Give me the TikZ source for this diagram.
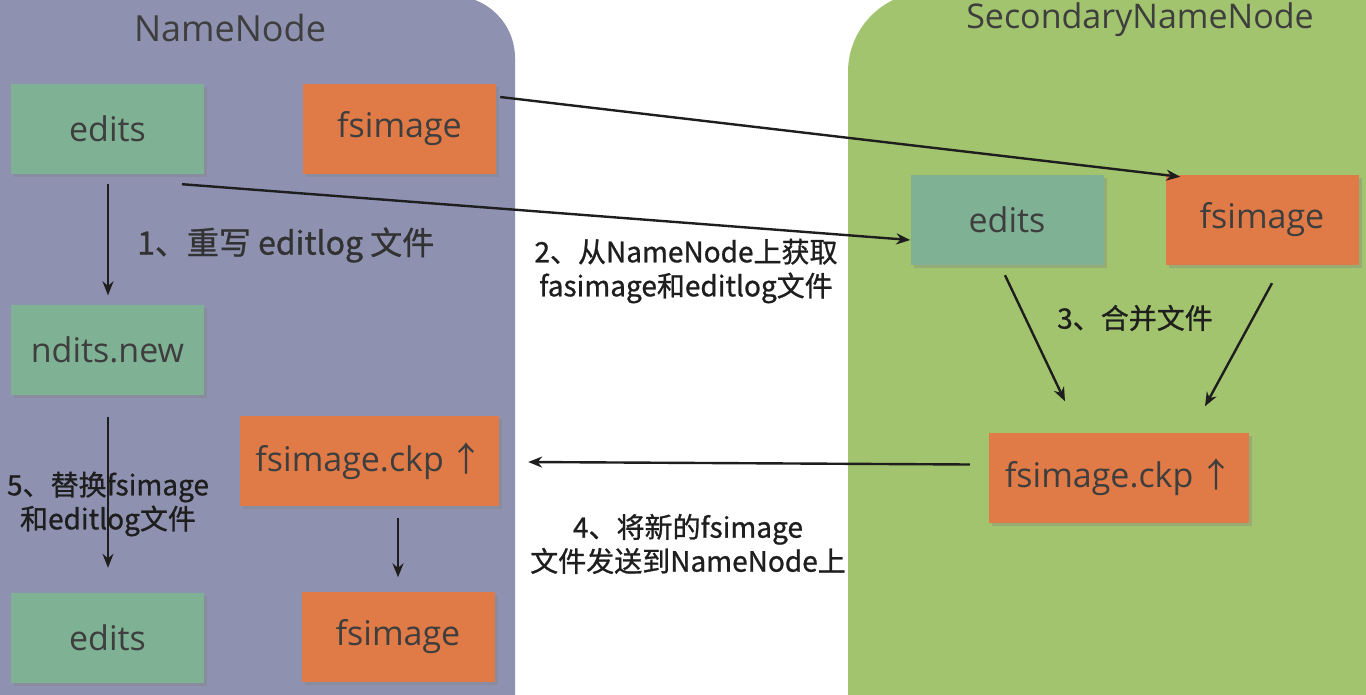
\documentclass[tikz,border=0pt]{standalone}
\usepackage{fontspec}
\setmainfont{Open Sans}
\newfontfamily\cjk{Noto Sans CJK SC}[FakeBold=0.9]
\newfontfamily\cjkarrow{Noto Sans CJK SC}
\usetikzlibrary{calc,shadows,arrows.meta}
\definecolor{nnpanel}{RGB}{142,146,176}
\definecolor{snpanel}{RGB}{163,196,110}
\definecolor{boxgreen}{RGB}{127,177,148}
\definecolor{boxorange}{RGB}{224,123,71}
\definecolor{txt}{RGB}{62,62,62}
\definecolor{arr}{RGB}{30,30,30}
\tikzset{
  filebox/.style={draw=none, minimum width=193pt, minimum height=90pt, inner sep=0pt,
    text=txt, font=\fontsize{34}{40}\selectfont,
    drop shadow={opacity=0.35, shadow xshift=3pt, shadow yshift=-3pt}},
  greenbox/.style={filebox, fill=boxgreen},
  orangebox/.style={filebox, fill=boxorange},
  title/.style={text=txt, font=\fontsize{36}{42}\selectfont},
  steplabel/.style={text=arr, font=\cjk\fontsize{28}{34}\selectfont, align=center, inner sep=0pt},
  flow/.style={draw=arr, line width=2.4pt, -{Stealth[length=14pt,width=11pt]}}
}
\newcommand{\uparr}{\,{\cjkarrow ↑}}
\begin{document}
\begin{tikzpicture}[x=1pt,y=-1pt]
\useasboundingbox (0,0) rectangle (1366,694);
\fill[white] (0,0) rectangle (1366,694);
% panels
\fill[nnpanel, rounded corners=62pt] (-80,-4) rectangle (515,770);
\fill[snpanel, rounded corners=80pt] (848,-8) rectangle (1440,770);
\node[title] (nntitle) at (230,28) {NameNode};
\node[title, font=\fontsize{34}{40}\selectfont] (sntitle) at (1140,20) {SecondaryNameNode};
% NameNode boxes
\node[greenbox] (e1) at (107.5,129) {edits};
\node[orangebox] (f1) at (399.5,129) {fsimage};
\node[greenbox] (nd) at (107.5,349.5) {ndits.new};
\node[orangebox, minimum width=259pt] (ckl) at (369.5,461) {fsimage.ckp\uparr};
\node[greenbox] (e3) at (107.5,638) {edits};
\node[orangebox] (f3) at (398,636.5) {fsimage};
% Secondary boxes
\node[greenbox] (e2) at (1007,220) {edits};
\node[orangebox] (f2) at (1262,220) {fsimage};
\node[orangebox, minimum width=260pt] (ckr) at (1119,477.5) {fsimage.ckp\uparr};
% arrows
\draw[flow] ($(e1.south)+(0.5,10)$) -- ($(nd.north)+(0.5,-9)$);
\draw[flow] ($(e1.south)+(74.5,10)$) -- ($(e2.west)+(0,20)$);
\draw[flow] ($(f1.east)+(4,-32)$) -- ($(f2.north west)+(15,2)$);
\draw[flow] ($(e2.south)+(-2,10)$) -- ($(ckr.north)+(-54,-31)$);
\draw[flow] ($(f2.south)+(10,18)$) -- ($(ckr.north)+(86,-26)$);
\draw[flow] ($(ckr.west)+(-19,-13)$) -- ($(ckl.east)+(29,1)$);
\draw[flow] ($(nd.south)+(0.5,22)$) -- ($(e3.north)+(0.5,-25)$);
\draw[flow] ($(ckl.south)+(28.5,12)$) -- ($(f3.north)+(0,-14)$);
% labels
\node[steplabel, text=txt!80!black, font=\cjk\fontsize{32}{36}\selectfont, anchor=west] (l1) at (137,245) {1、重写 editlog 文件};
\node[steplabel] (l2) at (686,271) {2、从NameNode上获取\\fasimage和editlog文件};
\node[steplabel] (l3) at (1135,318) {3、合并文件};
\node[steplabel] (l4) at (688,544) {4、将新的fsimage\\文件发送到NameNode上};
\node[steplabel] (l5) at (108,504) {5、替换fsimage\\和editlog文件};
\end{tikzpicture}
\end{document}
